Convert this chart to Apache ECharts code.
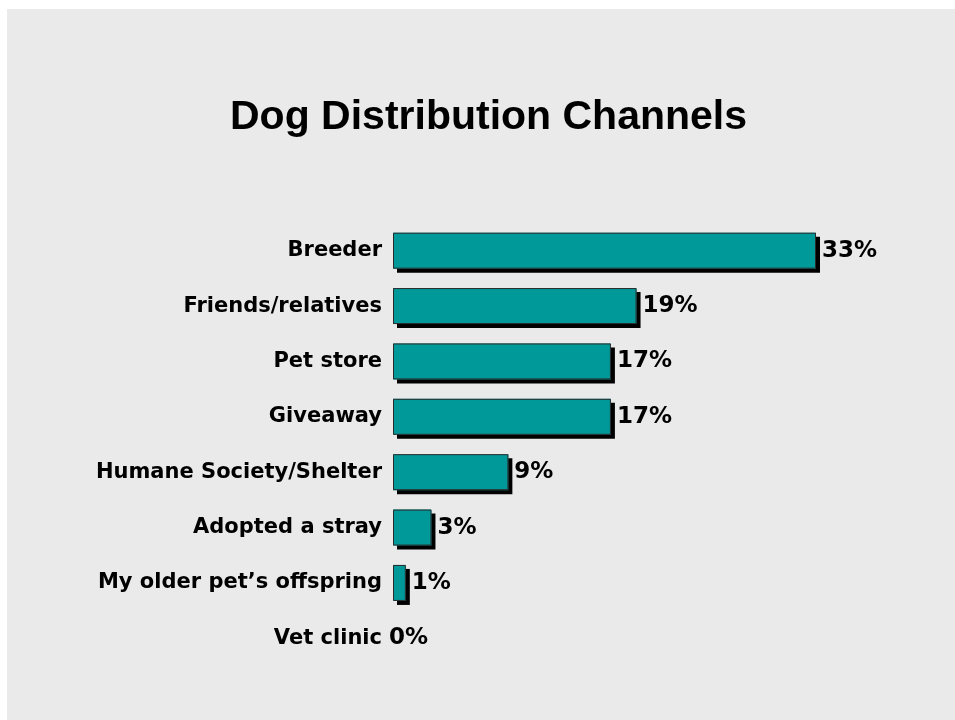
<!DOCTYPE html>
<html>
<head>
<meta charset="utf-8">
<style>
  html, body { margin: 0; padding: 0; background: #ffffff; }
  #chart { width: 955px; height: 720px; }
</style>
<script src="https://cdn.jsdelivr.net/npm/echarts@6/dist/echarts.min.js"></script>
</head>
<body>
<div id="chart"></div>
<script>
// Where new dogs come from (share of owners, %)
const channels = [
  'Breeder',
  'Friends/relatives',
  'Pet store',
  'Giveaway',
  'Humane Society/Shelter',
  'Adopted a stray',
  'My older pet\u2019s offspring',
  'Vet clinic'
];
const shares = [33, 19, 17, 17, 9, 3, 1, 0];

const chartTitle = 'Dog Distribution Channels';
const titleFont = '"Liberation Sans", Arial, sans-serif';
const labelFont = '"DejaVu Sans", "Noto Sans", sans-serif';

// Outline layer: same values, no outline where the share is zero,
// and the zero label tucked right against the category name
const outlineData = shares.map(v => ({
  value: v,
  itemStyle: { borderWidth: v > 0 ? 1 : 0 },
  label: { distance: v > 0 ? 6 : -4 }
}));

const chart = echarts.init(document.getElementById('chart'), null, { renderer: 'canvas' });

chart.setOption({
  backgroundColor: '#ffffff',
  animation: false,
  graphic: [{
    type: 'rect',
    z: -10,
    shape: { x: 7, y: 9, width: 948, height: 711 },
    style: { fill: '#eaeaea' }
  }],
  title: {
    text: chartTitle,
    left: 225,
    top: 92,
    textStyle: {
      fontFamily: titleFont,
      fontWeight: 'bold',
      fontSize: 41,
      color: '#000000',
      textShadowColor: '#ffffff',
      textShadowOffsetX: 2,
      textShadowOffsetY: 2,
      textShadowBlur: 0
    }
  },
  grid: {
    left: 393,
    top: 223,
    width: 423,
    height: 443,
    containLabel: false
  },
  xAxis: {
    type: 'value',
    min: 0,
    max: 33,
    show: false
  },
  yAxis: {
    type: 'category',
    data: channels,
    inverse: true,
    axisLine: { show: false },
    axisTick: { show: false },
    axisLabel: {
      margin: 11,
      fontFamily: labelFont,
      fontWeight: 'bold',
      fontSize: 21,
      color: '#000000'
    }
  },
  series: [
    {
      // teal fill with hard drop shadow
      type: 'bar',
      data: shares,
      barCategoryGap: '35%',
      barGap: '-100%',
      itemStyle: {
        color: '#009999',
        borderWidth: 0,
        shadowColor: '#000000',
        shadowBlur: 0,
        shadowOffsetX: 4,
        shadowOffsetY: 4
      }
    },
    {
      // thin dark outline plus value label
      type: 'bar',
      data: outlineData,
      barCategoryGap: '35%',
      barGap: '-100%',
      itemStyle: {
        color: 'rgba(0,0,0,0)',
        borderColor: '#2b2b2b',
        borderWidth: 1
      },
      label: {
        show: true,
        position: 'right',
        distance: 6,
        formatter: p => p.value + '%',
        fontFamily: labelFont,
        fontWeight: 'bold',
        fontSize: 23,
        color: '#000000'
      }
    }
  ]
});
</script>
</body>
</html>
